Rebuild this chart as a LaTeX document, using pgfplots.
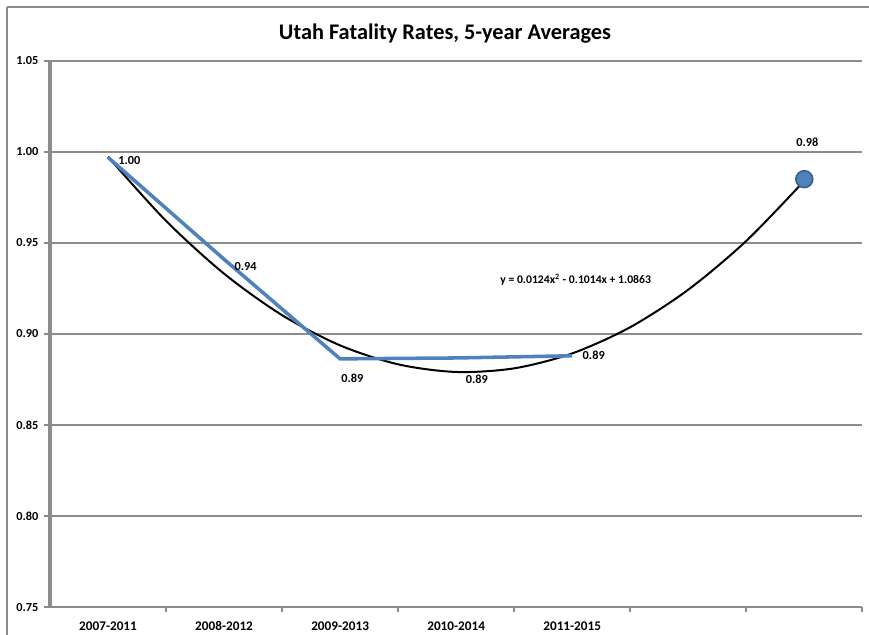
\documentclass[border=0pt]{standalone}
\usepackage{pgfplots}
\pgfplotsset{compat=1.18}
\usepackage{fontspec}
\setmainfont{Carlito}
\definecolor{xlblue}{HTML}{4F81BD}
\definecolor{xlblueedge}{HTML}{385D8A}
\definecolor{xlgray}{HTML}{8C8C8C}

\begin{document}
\begin{tikzpicture}[x=0.65pt,y=0.65pt]
% page = 869 x 634 px, axis origin at px (50,607)
\useasboundingbox (-50,-27) rectangle (819,607);
\draw[xlgray, line width=1.6pt] (-43,600) -- (830,600);
\draw[xlgray, line width=1.6pt] (-43,-40) -- (-43,600);
\node[font=\bfseries\fontsize{14.5}{16}\selectfont] at (395,573) {Utah Fatality Rates, 5-year Averages};

\begin{axis}[
  at={(0,0)}, anchor=south west,
  scale only axis,
  width=528pt, height=355pt,
  xmin=0.5, xmax=7.5,
  ymin=0.75, ymax=1.05,
  axis x line*=bottom, axis y line*=left,
  x axis line style={xlgray, line width=1.3pt, -},
  y axis line style={xlgray, line width=2pt, -},
  xtick={1,2,3,4,5},
  xticklabels={2007-2011,2008-2012,2009-2013,2010-2014,2011-2015},
  major x tick style={draw=none},
  minor xtick={1.5,2.5,3.5,4.5,5.5,6.5,7.5},
  minor x tick style={xlgray, line width=1.2pt},
  minor tick length=3pt,
  ytick={0.75,0.80,0.85,0.90,0.95,1.00,1.05},
  y tick label style={/pgf/number format/.cd, fixed, fixed zerofill, precision=2},
  major y tick style={xlgray, line width=1.2pt},
  major tick length=4pt,
  tick align=outside,
  ymajorgrids,
  grid style={xlgray, line width=1pt},
  tick label style={font=\bfseries\fontsize{8}{9}\selectfont},
  /pgf/number format/assume math mode=true,
  x tick label style={font=\bfseries\fontsize{8.6}{9}\selectfont, text height=6pt, text depth=0pt, yshift=-2pt},
  clip=false,
]
% trendline y = 0.0124x^2 - 0.1014x + 1.0863, values tabulated
\addplot[black, line width=1.3pt, smooth, no marks] coordinates {
  (1,0.9973) (1.5,0.9621) (2,0.9331) (2.5,0.9103) (3,0.8937) (3.5,0.8833)
  (4,0.8791) (4.5,0.8811) (5,0.8893) (5.5,0.9037) (6,0.9243) (6.5,0.9511) (7,0.9841)};
\addplot[xlblue, line width=2.3pt, no marks] coordinates {
  (1,0.997) (2,0.941) (3,0.8863) (4,0.8868) (5,0.8880)};
\addplot[only marks, mark=*, mark size=5.5pt, mark options={fill=xlblue, draw=xlblueedge, line width=1pt}] coordinates {(7,0.985)};

\begin{scope}[every node/.style={font=\bfseries\fontsize{8}{9}\selectfont, inner sep=0pt}]
\node[anchor=west] at ([xshift=6.5pt,yshift=-2pt]axis cs:1,0.997) {1.00};
\node at ([xshift=14pt,yshift=-5pt]axis cs:2,0.941) {0.94};
\node at ([xshift=8pt,yshift=-12.5pt]axis cs:3,0.8863) {0.89};
\node at ([xshift=13.5pt,yshift=-14pt]axis cs:4,0.8868) {0.89};
\node at ([xshift=14pt,yshift=0pt]axis cs:5,0.8880) {0.89};
\node at ([xshift=2pt,yshift=24pt]axis cs:7,0.985) {0.98};
\node[font=\bfseries\fontsize{7.6}{8}\selectfont] at (axis cs:5.03,0.9297) {y = 0.0124x\textsuperscript{2} - 0.1014x + 1.0863};
\end{scope}
\end{axis}
\end{tikzpicture}
\end{document}
